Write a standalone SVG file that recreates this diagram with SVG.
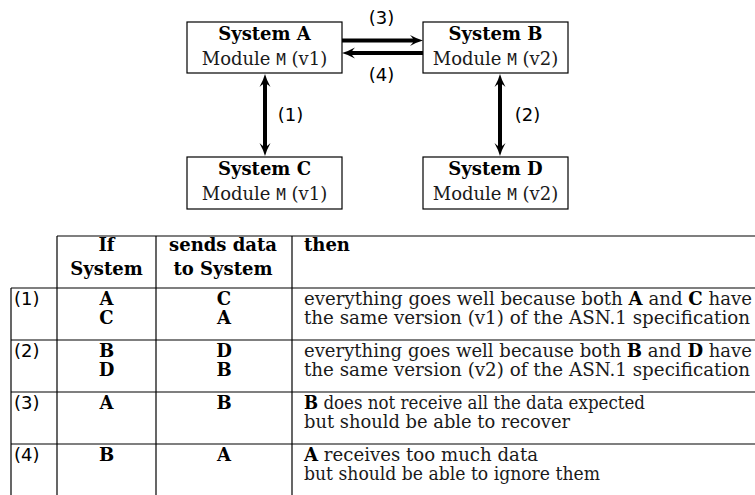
<svg xmlns="http://www.w3.org/2000/svg" width="755" height="495" viewBox="0 0 755 495">
  <style>
    .box { fill: #fff; stroke: #000; stroke-width: 1.2; }
    .rm { font-family: "DejaVu Serif", "Liberation Serif", serif; font-size: 18px; fill: #1a1a1a; }
    .bf { font-family: "DejaVu Serif", "Liberation Serif", serif; font-size: 18px; font-weight: bold; fill: #000; }
    .tt { font-family: "DejaVu Sans Mono", "Liberation Mono", monospace; font-size: 16px; }
    .sf { font-family: "DejaVu Sans", "Liberation Sans", sans-serif; font-size: 18px; fill: #000; }
    .mid { text-anchor: middle; }
    .b { font-weight: bold; fill: #000; }
    .arrow { stroke: #000; stroke-width: 4; fill: none; }
    .rule { stroke: #000; stroke-width: 1.2; fill: none; }
  </style>
  <defs>
    <!-- slender arrowhead with a curved back; the shaft stops 9px before the tip -->
    <marker id="head" viewBox="-14 -7 15 14" refX="-9" refY="0" markerWidth="15" markerHeight="14"
            markerUnits="userSpaceOnUse" orient="auto-start-reverse">
      <path d="M0,0 Q-6,-1.6 -13,-5.5 Q-9.5,-2 -9.5,0 Q-9.5,2 -13,5.5 Q-6,1.6 0,0 Z" fill="#000"/>
    </marker>
  </defs>

  <!-- systems -->
  <g id="system-a">
    <rect class="box" x="187" y="22" width="155" height="51"/>
    <text class="bf mid" x="264.5" y="39.5">System A</text>
    <text class="rm mid" x="264.5" y="65">Module <tspan class="tt">M</tspan> (v1)</text>
  </g>
  <g id="system-b">
    <rect class="box" x="423" y="22" width="145" height="51"/>
    <text class="bf mid" x="495.5" y="39.5">System B</text>
    <text class="rm mid" x="495.5" y="65">Module <tspan class="tt">M</tspan> (v2)</text>
  </g>
  <g id="system-c">
    <rect class="box" x="187" y="157" width="155" height="52"/>
    <text class="bf mid" x="264.5" y="175">System C</text>
    <text class="rm mid" x="264.5" y="200">Module <tspan class="tt">M</tspan> (v1)</text>
  </g>
  <g id="system-d">
    <rect class="box" x="423" y="157" width="145" height="52"/>
    <text class="bf mid" x="495.5" y="175">System D</text>
    <text class="rm mid" x="495.5" y="200">Module <tspan class="tt">M</tspan> (v2)</text>
  </g>

  <!-- data exchanges -->
  <g id="connectors">
    <line class="arrow" x1="342" y1="40.5" x2="414" y2="40.5" marker-end="url(#head)"/>
    <line class="arrow" x1="423" y1="53" x2="351" y2="53" marker-end="url(#head)"/>
    <line class="arrow" x1="265" y1="83" x2="265" y2="147" marker-start="url(#head)" marker-end="url(#head)"/>
    <line class="arrow" x1="500" y1="83" x2="500" y2="147" marker-start="url(#head)" marker-end="url(#head)"/>
    <text class="sf mid" x="381.5" y="24">(3)</text>
    <text class="sf mid" x="381.5" y="81">(4)</text>
    <text class="sf mid" x="290.5" y="121">(1)</text>
    <text class="sf mid" x="527.5" y="121">(2)</text>
  </g>

  <!-- compatibility table -->
  <g id="table">
    <g id="rules">
      <line class="rule" x1="57" y1="236" x2="755" y2="236"/>
      <line class="rule" x1="11" y1="288" x2="755" y2="288"/>
      <line class="rule" x1="11" y1="340" x2="755" y2="340"/>
      <line class="rule" x1="11" y1="392" x2="755" y2="392"/>
      <line class="rule" x1="11" y1="444" x2="755" y2="444"/>
      <line class="rule" x1="11" y1="288" x2="11" y2="495"/>
      <line class="rule" x1="57" y1="236" x2="57" y2="495"/>
      <line class="rule" x1="156" y1="236" x2="156" y2="495"/>
      <line class="rule" x1="292" y1="236" x2="292" y2="495"/>
    </g>

    <g id="header">
      <text class="bf mid" x="106.5" y="251">If</text>
      <text class="bf mid" x="106.5" y="275">System</text>
      <text class="bf mid" x="223" y="251">sends data</text>
      <text class="bf mid" x="223" y="275">to System</text>
      <text class="bf" x="304" y="251">then</text>
    </g>

    <g id="row-1">
      <text class="sf" x="14" y="304.5">(1)</text>
      <text class="bf mid" x="106.5" y="304.5">A</text>
      <text class="bf mid" x="106.5" y="323.5">C</text>
      <text class="bf mid" x="224" y="304.5">C</text>
      <text class="bf mid" x="224" y="323.5">A</text>
      <text class="rm" x="304" y="304.5" textLength="448" lengthAdjust="spacingAndGlyphs">everything goes well because both <tspan class="b">A</tspan> and <tspan class="b">C</tspan> have</text>
      <text class="rm" x="304" y="323.5" textLength="446" lengthAdjust="spacingAndGlyphs">the same version (v1) of the ASN.1 specification</text>
    </g>

    <g id="row-2">
      <text class="sf" x="14" y="356.5">(2)</text>
      <text class="bf mid" x="106.5" y="356.5">B</text>
      <text class="bf mid" x="106.5" y="375.5">D</text>
      <text class="bf mid" x="224" y="356.5">D</text>
      <text class="bf mid" x="224" y="375.5">B</text>
      <text class="rm" x="304" y="356.5" textLength="448" lengthAdjust="spacingAndGlyphs">everything goes well because both <tspan class="b">B</tspan> and <tspan class="b">D</tspan> have</text>
      <text class="rm" x="304" y="375.5" textLength="446" lengthAdjust="spacingAndGlyphs">the same version (v2) of the ASN.1 specification</text>
    </g>

    <g id="row-3">
      <text class="sf" x="14" y="408.5">(3)</text>
      <text class="bf mid" x="106.5" y="408.5">A</text>
      <text class="bf mid" x="224" y="408.5">B</text>
      <text class="rm" x="304" y="408.5" textLength="341" lengthAdjust="spacingAndGlyphs"><tspan class="b">B</tspan> does not receive all the data expected</text>
      <text class="rm" x="304" y="427.5" textLength="266" lengthAdjust="spacingAndGlyphs">but should be able to recover</text>
    </g>

    <g id="row-4">
      <text class="sf" x="14" y="460.5">(4)</text>
      <text class="bf mid" x="106.5" y="460.5">B</text>
      <text class="bf mid" x="224" y="460.5">A</text>
      <text class="rm" x="304" y="460.5" textLength="234" lengthAdjust="spacingAndGlyphs"><tspan class="b">A</tspan> receives too much data</text>
      <text class="rm" x="304" y="479.5" textLength="296" lengthAdjust="spacingAndGlyphs">but should be able to ignore them</text>
    </g>
  </g>
</svg>
